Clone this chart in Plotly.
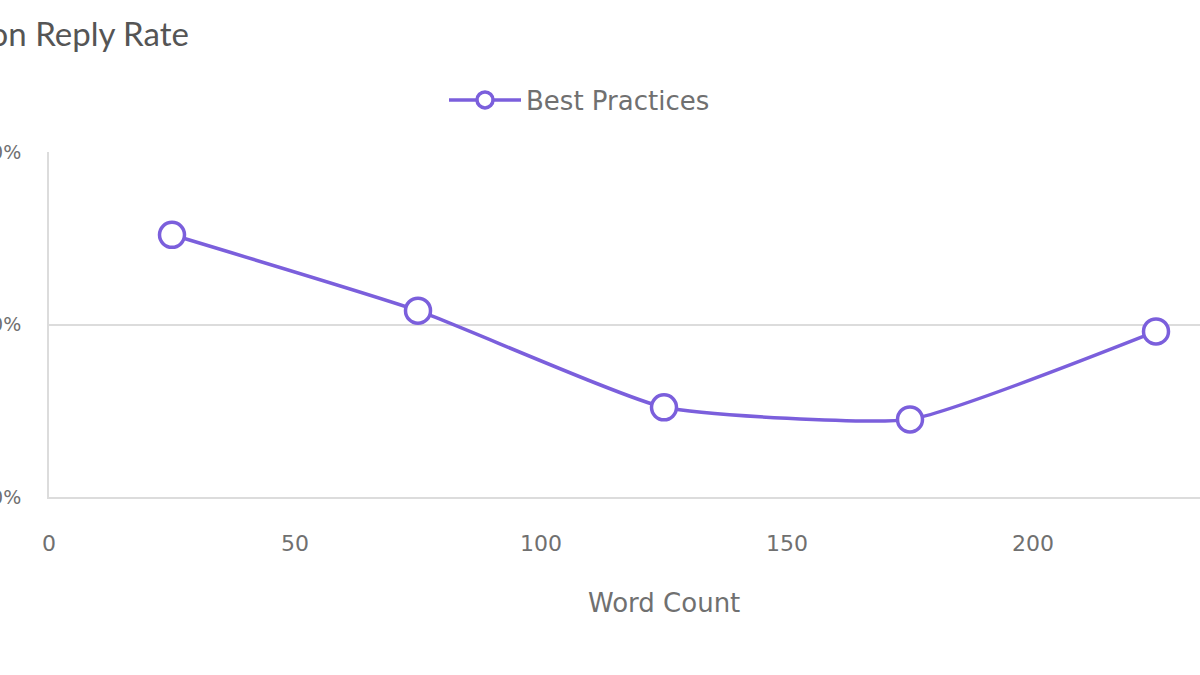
import plotly.graph_objects as go

word_count = [25, 75, 125, 175, 225]
reply_rate = [0.552, 0.508, 0.452, 0.445, 0.496]
x_ticks = [0, 50, 100, 150, 200]
y_ticks = [0.4, 0.5, 0.6]
series_name = "Best Practices"
title_text = "Word Count's Effect on Reply Rate"
x_title = "Word Count"

purple = "#7b5fdc"
grid = "#dcdcdc"
txt = "#707070"
font_main = "DejaVu Sans, sans-serif"

W, H = 1200, 675
L, T, B = 49, 152, 178
PH = H - T - B
PW = W - L

fig = go.Figure()
fig.add_trace(go.Scatter(
    x=word_count, y=reply_rate, name=series_name,
    mode="lines+markers",
    line=dict(color=purple, width=3.5, shape="spline", smoothing=0.45),
    marker=dict(size=25, color="white", line=dict(color=purple, width=3.5)),
    cliponaxis=False,
))

fig.update_layout(
    width=W, height=H,
    margin=dict(l=L, r=0, t=T, b=B, autoexpand=False),
    paper_bgcolor="white", plot_bgcolor="white",
    font=dict(family=font_main, color=txt, size=22),
    showlegend=True,
    legend=dict(orientation="h", x=(444 - L) / PW, xanchor="left",
                y=1 + (T - 100) / PH, yanchor="middle", itemwidth=72,
                font=dict(size=26, color=txt, family=font_main)),
    xaxis=dict(range=[0, PW / 4.92], tickvals=x_ticks, showgrid=False, zeroline=False,
               automargin=False,
               showline=True, linecolor=grid, linewidth=2, ticks="", ticklabelstandoff=26,
               tickfont=dict(size=22, color=txt)),
    yaxis=dict(range=[0.4, 0.6], tickvals=y_ticks, tickformat=".0%", showgrid=True,
               automargin=False,
               gridcolor=grid, gridwidth=2, zeroline=False, showline=True, linecolor=grid,
               linewidth=2, ticks="", ticklabelstandoff=22, tickfont=dict(size=19, color=txt)),
)

fig.add_annotation(text=title_text, xref="paper", yref="paper", x=(191 - L) / PW,
                   xanchor="right", y=1 + (T - 33) / PH, yanchor="middle",
                   showarrow=False, font=dict(size=33, color="#555555", family="Lato, sans-serif"))

fig.add_annotation(text=x_title, xref="paper", yref="paper", x=(664 - L) / PW,
                   xanchor="center", y=-(603 - (T + PH)) / PH, yanchor="middle",
                   showarrow=False, font=dict(size=26, color=txt, family=font_main))

fig.write_html("out.html", config={"displayModeBar": False},
               post_script="document.body.style.margin='0';")
